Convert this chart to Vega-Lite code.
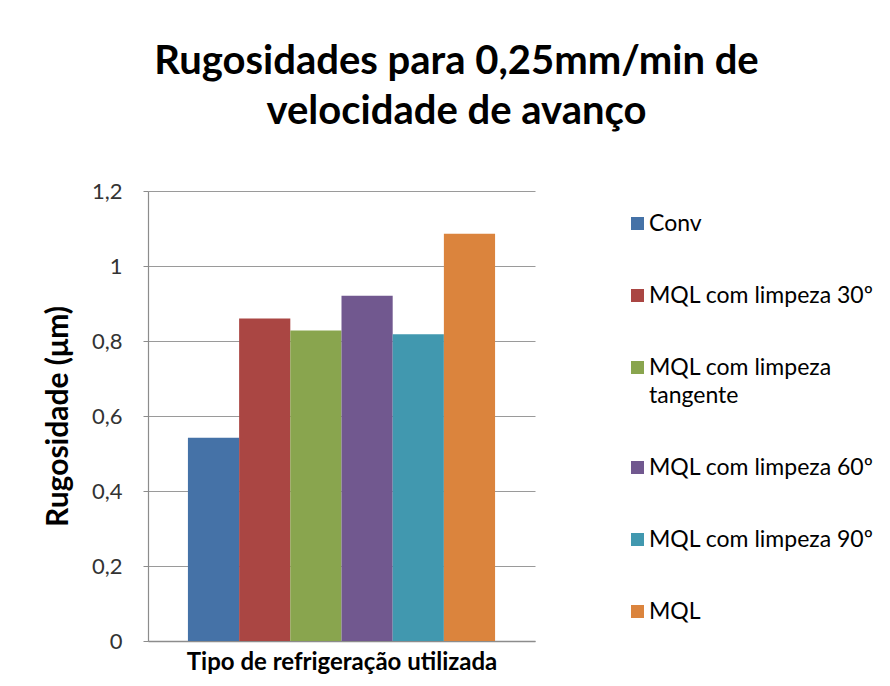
{
  "$schema": "https://vega.github.io/schema/vega-lite/v6.json",
  "width": 387,
  "height": 450,
  "autosize": {"type": "none"},
  "padding": {"left": 148, "top": 191, "right": 355, "bottom": 45},
  "background": "white",
  "title": {
    "text": ["Rugosidades para 0,25mm/min de", "velocidade de avanço"],
    "font": "Lato",
    "fontSize": 40,
    "fontWeight": "bold",
    "lineHeight": 50,
    "color": "#000000",
    "anchor": "middle",
    "dx": 115,
    "offset": 48
  },
  "data": {
    "values": [
      {"serie": "Conv", "valor": 0.542},
      {"serie": "MQL com limpeza 30º", "valor": 0.86},
      {"serie": "MQL com limpeza tangente", "valor": 0.828},
      {"serie": "MQL com limpeza 60º", "valor": 0.921},
      {"serie": "MQL com limpeza 90º", "valor": 0.818},
      {"serie": "MQL", "valor": 1.086}
    ]
  },
  "mark": {"type": "bar"},
  "encoding": {
    "x": {
      "field": "serie",
      "type": "nominal",
      "sort": null,
      "scale": {"paddingInner": 0, "paddingOuter": 0.78},
      "axis": {
        "title": "Tipo de refrigeração utilizada",
        "titleFont": "Lato",
        "titleFontSize": 24,
        "titleFontWeight": "bold",
        "titleColor": "#000000",
        "titlePadding": 9,
        "labels": false,
        "ticks": false,
        "domainColor": "#8c8c8c",
        "domainWidth": 1.5
      }
    },
    "y": {
      "field": "valor",
      "type": "quantitative",
      "scale": {"domain": [0, 1.2], "nice": false},
      "axis": {
        "title": "Rugosidade (μm)",
        "titleFont": "Lato",
        "titleFontSize": 30,
        "titleFontWeight": "bold",
        "titleColor": "#000000",
        "titlePadding": 18,
        "values": [0, 0.2, 0.4, 0.6, 0.8, 1, 1.2],
        "labelExpr": "replace(toString(datum.value), '.', ',')",
        "labelFont": "Lato",
        "labelFontSize": 22,
        "labelColor": "#333333",
        "labelPadding": 21,
        "tickSize": 5,
        "tickColor": "#8c8c8c",
        "gridColor": "#9a9a9a",
        "gridWidth": 1.2,
        "domainColor": "#8c8c8c",
        "domainWidth": 1.2
      }
    },
    "color": {
      "field": "serie",
      "type": "nominal",
      "sort": null,
      "scale": {
        "domain": ["Conv", "MQL com limpeza 30º", "MQL com limpeza tangente", "MQL com limpeza 60º", "MQL com limpeza 90º", "MQL"],
        "range": ["#4572A7", "#AA4643", "#89A54E", "#71588F", "#4198AF", "#DB843D"]
      },
      "legend": {
        "title": null,
        "orient": "none",
        "legendX": 478,
        "legendY": 21,
        "symbolType": "square",
        "symbolSize": 169,
        "symbolStrokeWidth": 0,
        "labelFont": "Lato",
        "labelFontSize": 23,
        "labelColor": "#000000",
        "labelOffset": 0,
        "labelLimit": 300,
        "rowPadding": 48,
        "labelExpr": "datum.label == 'MQL com limpeza tangente' ? ['MQL com limpeza', 'tangente'] : datum.label",
        "encode": {"labels": {"update": {"lineHeight": {"value": 28}}}}
      }
    }
  },
  "config": {
    "view": {"stroke": null},
    "axis": {"gridOpacity": 1}
  }
}
